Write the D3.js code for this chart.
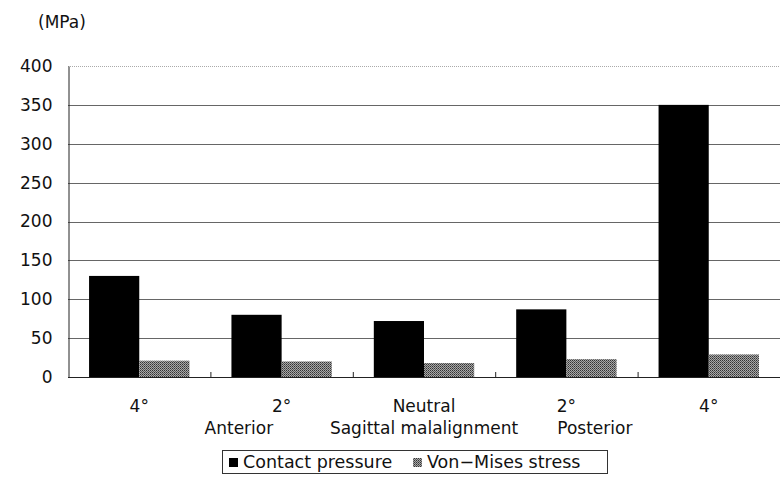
<!DOCTYPE html>
<html><head><meta charset="utf-8">
<script src="https://cdn.jsdelivr.net/npm/d3@7"></script>
<style>body{margin:0;background:#fff}svg{display:block}text{font-family:"DejaVu Sans",sans-serif;fill:#111}</style>
</head><body><svg id="c" width="780" height="477"></svg>
<script>
const categories = ["4°","2°","Neutral","2°","4°"];
const seriesNames = ["Contact pressure","Von\u2212Mises stress"];
const contactPressure = [130, 80, 72, 87, 350];
const vonMises = [21, 20, 18, 23, 29];
const yTicks = [0,50,100,150,200,250,300,350,400];
const groupLabels = [{text:"Anterior", at:0.7},{text:"Sagittal malalignment", at:2},{text:"Posterior", at:3.2}];

const FONT = '"DejaVu Sans",sans-serif';
const svg = d3.select("#c");
const m = {l:68, r:780, t:66, b:377};
const x = d3.scaleBand().domain(d3.range(categories.length)).range([m.l, m.r]).paddingInner(0.295).paddingOuter(0.148);
const xOuter = d3.scaleBand().domain(d3.range(categories.length)).range([m.l, m.r]);
const y = d3.scaleLinear().domain([0,400]).range([m.b, m.t]);

const defs = svg.append("defs");
const pat = defs.append("pattern").attr("id","dith").attr("width",2).attr("height",2).attr("patternUnits","userSpaceOnUse");
pat.append("rect").attr("width",2).attr("height",2).attr("fill","#a8a8a8");
pat.append("rect").attr("width",1).attr("height",1).attr("fill","#333");
pat.append("rect").attr("x",1).attr("y",1).attr("width",1).attr("height",1).attr("fill","#5a5a5a");

// gridlines
svg.append("g").selectAll("line").data(yTicks.filter(d=>d>0)).join("line")
  .attr("x1",m.l).attr("x2",m.r).attr("y1",d=>Math.round(y(d))+0.5).attr("y2",d=>Math.round(y(d))+0.5)
  .attr("stroke",d=>d===400?"#aaa":"#666").attr("stroke-width",1)
  .attr("stroke-dasharray",d=>d===400?"1,1":null);

// y axis
const yAxis = d3.axisLeft(y).tickValues(yTicks).tickSize(0).tickPadding(16);
const ga = svg.append("g").attr("transform",`translate(${m.l+0.5},0)`).call(yAxis);
ga.select(".domain").attr("stroke","#222");
ga.selectAll("text").attr("font-size",17).style("font-family",FONT).attr("fill","#111");

// bars
const bw = x.bandwidth()/2;
svg.append("g").selectAll("rect").data(contactPressure).join("rect")
  .attr("x",(d,i)=>x(i)).attr("width",bw).attr("y",d=>y(d)).attr("height",d=>y(0)-y(d)).attr("fill","#000");
svg.append("g").selectAll("rect").data(vonMises).join("rect")
  .attr("x",(d,i)=>x(i)+bw).attr("width",bw).attr("y",d=>y(d)).attr("height",d=>y(0)-y(d)).attr("fill","url(#dith)");

// x axis
const xAxis = d3.axisBottom(x).tickFormat(i=>categories[i]).tickSize(0).tickPadding(22);
const gx = svg.append("g").attr("transform",`translate(0,${m.b+0.5})`).call(xAxis);
gx.select(".domain").remove();
gx.selectAll("text").attr("font-size",17).style("font-family",FONT).attr("fill","#111");
svg.append("line").attr("x1",m.l).attr("x2",m.r).attr("y1",m.b+0.5).attr("y2",m.b+0.5).attr("stroke","#222");
svg.append("g").selectAll("line").data(d3.range(1,categories.length)).join("line")
  .attr("x1",i=>xOuter(i)+0.5).attr("x2",i=>xOuter(i)+0.5).attr("y1",m.b-5).attr("y2",m.b).attr("stroke","#222");

svg.append("g").selectAll("text").data(groupLabels).join("text")
  .attr("x",d=>x(0)+x.bandwidth()/2 + d.at*x.step()).attr("y",434).attr("text-anchor","middle")
  .attr("font-size",17).text(d=>d.text);

svg.append("text").attr("x",38).attr("y",28).attr("font-size",17).text("(MPa)");

// legend
const lg = svg.append("g");
lg.append("rect").attr("x",222.5).attr("y",450.5).attr("width",385).attr("height",23).attr("fill","#fff").attr("stroke","#333");
const items = [{x:229, fill:"#000", name:seriesNames[0]},{x:413, fill:"url(#dith)", name:seriesNames[1]}];
items.forEach(it=>{
  lg.append("rect").attr("x",it.x).attr("y",458).attr("width",9).attr("height",9).attr("fill",it.fill);
  lg.append("text").attr("x",it.x+14).attr("y",468).attr("font-size",17.5).text(it.name);
});
</script></body></html>
